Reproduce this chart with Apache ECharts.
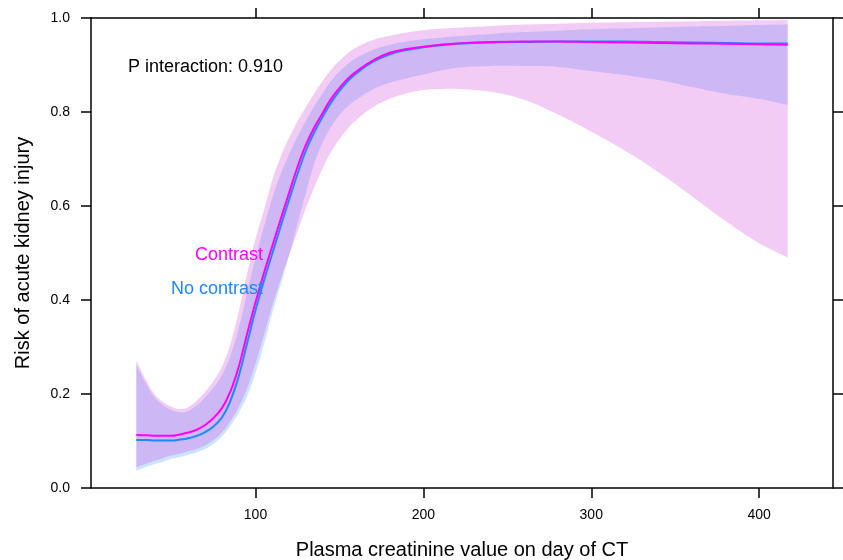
<!DOCTYPE html>
<html>
<head>
    <meta charset="utf-8">
    <title>AKI risk by creatinine</title>
    <script src="https://cdn.jsdelivr.net/npm/echarts@6/dist/echarts.min.js"></script>
</head>
<body style="margin:0;">

<div id="akiChart" style="width: 843px;height:560px;"></div>

<script type="text/javascript">
    // plasma creatinine grid
    var creat = [29, 35, 40, 45, 50, 55, 60, 65, 70, 75, 80, 85, 90, 95, 100, 105, 110, 115, 120, 125,
                 130, 135, 140, 145, 150, 155, 160, 170, 180, 190, 200, 210, 220, 240, 260, 280, 300,
                 320, 340, 360, 380, 400, 417];

    // Contrast: fit + CI
    var contrastFit = [.113, .112, .111, .111, .111, .114, .118, .124, .134, .149, .170, .205, .258, .328, .395, .457, .515, .572, .628, .683,
                       .730, .767, .798, .828, .851, .871, .886, .910, .926, .934, .939, .943, .946, .949, .950, .950, .949,
                       .948, .947, .946, .945, .944, .943];
    var contrastUpper = [.271, .228, .199, .183, .173, .168, .172, .186, .204, .228, .258, .306, .375, .457, .530, .590, .655, .705, .745, .780,
                         .810, .840, .866, .890, .909, .925, .937, .953, .962, .969, .974, .977, .979, .983, .986, .988, .990,
                         .991, .992, .993, .994, .995, .996];
    var contrastLower = [.044, .052, .058, .064, .069, .073, .078, .083, .091, .102, .118, .142, .172, .212, .265, .325, .388, .443, .495, .545,
                         .595, .640, .680, .715, .742, .765, .783, .810, .828, .840, .847, .849, .849, .843, .826, .795, .758,
                         .718, .672, .621, .568, .521, .491];

    // No contrast: fit + CI
    var noContrastFit = [.102, .102, .101, .101, .101, .103, .106, .111, .119, .131, .150, .185, .238, .308, .378, .441, .499, .557, .613, .668,
                         .718, .757, .790, .820, .845, .866, .882, .907, .923, .932, .938, .942, .945, .948, .949, .950, .950,
                         .950, .949, .948, .947, .946, .946];
    var noContrastUpper = [.263, .220, .192, .176, .166, .161, .164, .176, .193, .214, .240, .281, .340, .415, .490, .555, .617, .668, .710, .748,
                           .781, .812, .840, .866, .886, .902, .915, .932, .943, .950, .955, .958, .961, .966, .970, .973, .976,
                           .978, .980, .982, .983, .985, .986];
    var noContrastLower = [.037, .045, .051, .056, .062, .066, .071, .076, .083, .094, .110, .132, .160, .195, .245, .305, .372, .432, .495, .562,
                           .628, .690, .735, .768, .793, .812, .826, .848, .862, .872, .880, .888, .894, .898, .898, .896, .887,
                           .878, .868, .853, .839, .828, .815];

    var xTicks = [100, 200, 300, 400];

    var pairs = function (ys) {
        return creat.map(function (x, i) { return [x, ys[i]]; });
    };

    var FONT = 'Liberation Sans, Arial, Helvetica, sans-serif';
    var SMOOTH = 0.4;

    // CI band as one smoothed polygon: upper edge left->right, lower edge back
    // end points doubled so the vertical ends stay straight
    function band(name, lo, up, color) {
        return {
            name: name,
            type: 'custom',
            coordinateSystem: 'cartesian2d',
            silent: true,
            data: creat.map(function (x, i) { return [x, lo[i], up[i]]; }),
            encode: {x: 0, y: [1, 2]},
            renderItem: function (params, api) {
                if (params.dataIndex !== 0) return;
                var top = creat.map(function (x, i) { return api.coord([x, up[i]]); });
                var bot = creat.map(function (x, i) { return api.coord([x, lo[i]]); }).reverse();
                var pts = [top[0]].concat(top, [top[top.length - 1]], [bot[0]], bot, [bot[bot.length - 1]]);
                return {
                    type: 'polygon',
                    shape: {points: pts, smooth: SMOOTH},
                    style: {fill: color}
                };
            }
        };
    }

    function fitLine(name, ys, color) {
        return {
            name: name,
            type: 'line',
            data: pairs(ys),
            smooth: SMOOTH,
            showSymbol: false,
            lineStyle: {color: color, width: 2},
            z: 5
        };
    }

    var axisBase = {
        axisLine: {show: true, onZero: false, lineStyle: {color: '#000', width: 1.5}},
        axisTick: {show: true, inside: false, length: 10, lineStyle: {color: '#000', width: 1.5}},
        splitLine: {show: false}
    };

    var akiChart = echarts.init(document.getElementById('akiChart'));

    akiChart.setOption({
        animation: false,
        backgroundColor: '#fff',
        grid: {left: 91, right: 10, top: 18, bottom: 72, containLabel: false, outerBoundsMode: 'none'},
        xAxis: [
            Object.assign({}, axisBase, {
                type: 'value',
                position: 'bottom',
                min: 2,
                max: 444,
                name: 'Plasma creatinine value on day of CT',
                nameLocation: 'middle',
                nameGap: 52,
                nameTextStyle: {fontFamily: FONT, fontSize: 20, color: '#000'},
                axisTick: Object.assign({}, axisBase.axisTick, {customValues: xTicks}),
                axisLabel: {customValues: xTicks, margin: 20, fontFamily: FONT, fontSize: 14, color: '#000'}
            }),
            Object.assign({}, axisBase, {
                type: 'value',
                position: 'top',
                min: 2,
                max: 444,
                axisTick: Object.assign({}, axisBase.axisTick, {customValues: xTicks}),
                axisLabel: {show: false}
            })
        ],
        yAxis: [
            Object.assign({}, axisBase, {
                type: 'value',
                position: 'left',
                min: 0,
                max: 1,
                interval: 0.2,
                name: 'Risk of acute kidney injury',
                nameLocation: 'middle',
                nameGap: 58,
                nameTextStyle: {fontFamily: FONT, fontSize: 20, color: '#000'},
                axisLabel: {
                    margin: 21,
                    fontFamily: FONT,
                    fontSize: 14,
                    color: '#000',
                    formatter: function (v) { return v.toFixed(1); }
                }
            }),
            Object.assign({}, axisBase, {
                type: 'value',
                position: 'right',
                min: 0,
                max: 1,
                interval: 0.2,
                axisLabel: {show: false}
            })
        ],
        graphic: [
            {type: 'text', x: 128, y: 67, style: {text: 'P interaction: 0.910', font: '18px ' + FONT, fill: '#000', verticalAlign: 'middle'}},
            {type: 'text', x: 263, y: 255, style: {text: 'Contrast', font: '18px ' + FONT, fill: '#ff00ff', align: 'right', verticalAlign: 'middle'}, z: 10},
            {type: 'text', x: 263, y: 289, style: {text: 'No contrast', font: '18px ' + FONT, fill: '#1e88ff', align: 'right', verticalAlign: 'middle'}, z: 10}
        ],
        series: [
            band('noContrast band', noContrastLower, noContrastUpper, 'rgba(51,147,255,0.25)'),
            band('contrast band', contrastLower, contrastUpper, 'rgba(207,51,215,0.25)'),
            fitLine('No contrast', noContrastFit, '#1e88ff'),
            fitLine('Contrast', contrastFit, '#ff00ff')
        ]
    });
</script>
</body>
</html>
